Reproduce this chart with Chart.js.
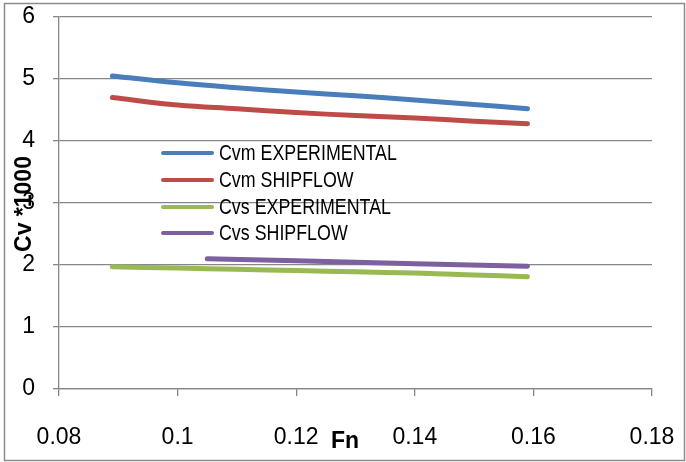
<!DOCTYPE html>
<html>
<head>
<meta charset="utf-8">
<script src="https://cdn.jsdelivr.net/npm/chart.js@4"></script>
<style>
  html, body { margin: 0; padding: 0; background: #fff; }
  #wrap { position: relative; width: 686px; height: 462px; }
</style>
</head>
<body>
<div id="wrap"><canvas id="chart" width="686" height="462"></canvas></div>
<script>
// Fn values (x) and Cv*1000 values (y)
const fnMain = [0.089, 0.1, 0.11, 0.12, 0.13, 0.14, 0.15, 0.159];
const cvmExp = [5.05, 4.94, 4.86, 4.79, 4.73, 4.66, 4.59, 4.52];
const cvmShip = [4.70, 4.58, 4.52, 4.46, 4.41, 4.37, 4.32, 4.28];
const cvsExp = [1.97, 1.95, 1.93, 1.91, 1.89, 1.87, 1.84, 1.81];
const fnCvsShip = [0.105, 0.12, 0.14, 0.159];
const cvsShip = [2.10, 2.07, 2.02, 1.98];

const seriesNames = ["Cvm EXPERIMENTAL", "Cvm SHIPFLOW", "Cvs EXPERIMENTAL", "Cvs SHIPFLOW"];
const seriesColors = ["#4A7EBB", "#BE4B48", "#98B954", "#7D60A0"];
const xTitle = "Fn";
const yTitle = "Cv *1000";

const tickFont = "'Liberation Sans', Arial, sans-serif";
const gridColor = "#878787";

function pts(xs, ys) {
  return xs.map((x, i) => ({ x: x, y: ys[i] }));
}

function makeSet(i, xs, ys) {
  return {
    label: seriesNames[i],
    data: pts(xs, ys),
    borderColor: seriesColors[i],
    backgroundColor: seriesColors[i],
    borderWidth: 5,
    pointRadius: 0,
    tension: 0.4,
    borderCapStyle: "round",
  };
}

// no extra label padding, so the plot area lands where the reference has it
function noPad(s) {
  s.paddingTop = 0;
  s.paddingBottom = 0;
  s.paddingLeft = 0;
  s.paddingRight = 0;
}

// legend inside the plot + border + axis titles
const extras = {
  id: "extras",
  afterDatasetsDraw(chart) {
    const ctx = chart.ctx;
    ctx.save();
    // legend
    const rows = [153, 180, 207, 233];
    ctx.textBaseline = "middle";
    ctx.textAlign = "left";
    chart.data.datasets.forEach((ds, i) => {
      ctx.strokeStyle = ds.borderColor;
      ctx.lineWidth = 4;
      ctx.lineCap = "round";
      ctx.beginPath();
      ctx.moveTo(163, rows[i]);
      ctx.lineTo(212, rows[i]);
      ctx.stroke();
      ctx.save();
      ctx.translate(219, rows[i] + 1);
      ctx.scale(0.81, 1); // narrow face like the original
      ctx.font = "22px " + tickFont;
      ctx.fillStyle = "#000";
      ctx.fillText(ds.label, 0, 0);
      ctx.restore();
    });
    // axis titles
    ctx.font = "bold 23px " + tickFont;
    ctx.fillStyle = "#000";
    ctx.textAlign = "center";
    ctx.fillText(xTitle, 345, 442);
    ctx.translate(25, 204);
    ctx.rotate(-Math.PI / 2);
    ctx.fillText(yTitle, 0, 0);
    ctx.restore();
    // outer border
    ctx.save();
    ctx.strokeStyle = "#8c8c8c";
    ctx.lineWidth = 1.5;
    ctx.strokeRect(4.5, 3.5, 680, 457);
    ctx.restore();
  },
};

new Chart(document.getElementById("chart"), {
  type: "line",
  data: {
    datasets: [
      makeSet(0, fnMain, cvmExp),
      makeSet(1, fnMain, cvmShip),
      makeSet(2, fnMain, cvsExp),
      makeSet(3, fnCvsShip, cvsShip),
    ],
  },
  options: {
    responsive: false,
    devicePixelRatio: 1,
    animation: false,
    layout: { padding: { top: 17, right: 34, left: 0, bottom: 0 } },
    plugins: { legend: { display: false }, tooltip: { enabled: false } },
    scales: {
      x: {
        type: "linear",
        min: 0.08,
        max: 0.18,
        ticks: {
          stepSize: 0.02,
          color: "#000",
          font: { family: tickFont, size: 23 },
          padding: 28,
          maxRotation: 0,
          callback: (v) => +v.toFixed(2),
        },
        grid: { drawOnChartArea: false, color: gridColor, tickLength: 7, lineWidth: 1.3 },
        border: { color: gridColor, width: 1.3 },
        afterFit: (s) => { s.height = 73; noPad(s); },
      },
      y: {
        min: 0,
        max: 6,
        ticks: {
          stepSize: 1,
          color: "#000",
          font: { family: tickFont, size: 23 },
          padding: 18,
        },
        grid: { color: gridColor, tickLength: 6, lineWidth: 1.3 },
        border: { color: gridColor, width: 1.3 },
        afterFit: (s) => { s.width = 59; noPad(s); },
      },
    },
  },
  plugins: [extras],
});
</script>
</body>
</html>
